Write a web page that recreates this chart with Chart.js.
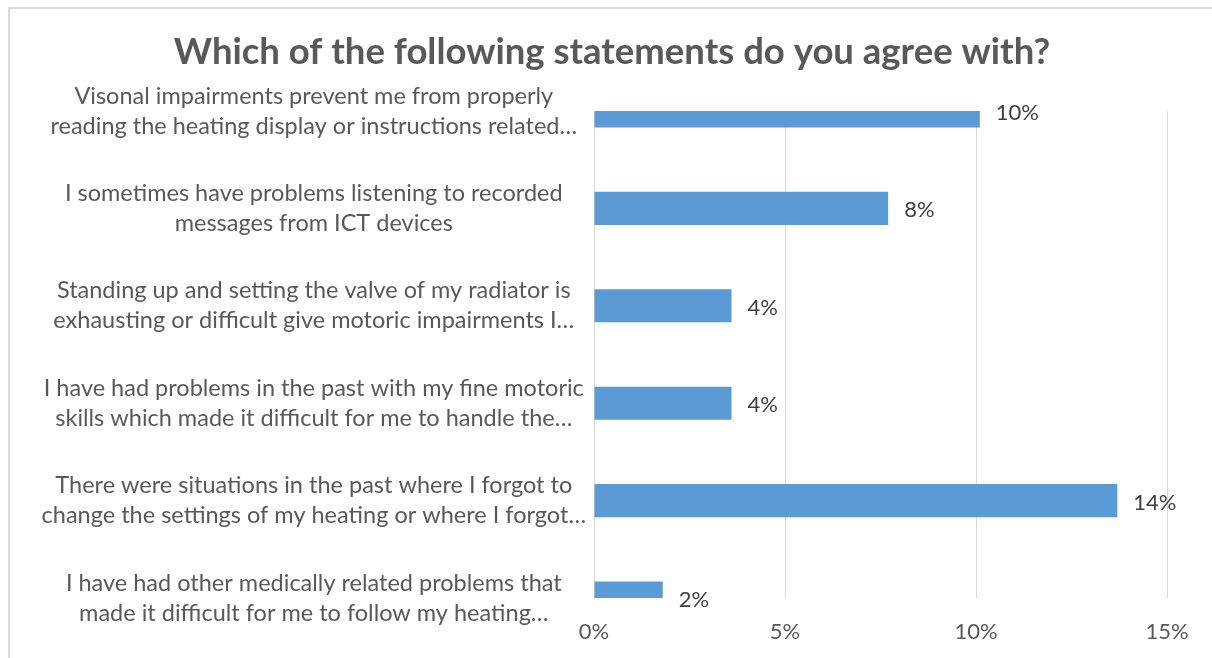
<!DOCTYPE html>
<html>
<head>
<meta charset="utf-8">
<script src="https://cdn.jsdelivr.net/npm/chart.js@4/dist/chart.umd.min.js"></script>
<style>
  html, body { margin: 0; padding: 0; background: #fff; overflow: hidden; }
  #wrap { position: relative; width: 1212px; height: 658px; }
  #frame { position: absolute; left: 8px; top: 7px; width: 1300px; height: 700px;
           border-top: 2px solid #d9d9d9; border-left: 2px solid #d9d9d9; }
  canvas { position: absolute; left: 0; top: 0; }
</style>
</head>
<body>
<div id="wrap">
  <div id="frame"></div>
  <canvas id="agreeChart" width="1212" height="658"></canvas>
</div>
<script>
const title = 'Which of the following statements do you agree with?';
const statements = [
  ['Visonal impairments prevent me from properly', 'reading the heating display or instructions related…'],
  ['I sometimes have problems listening to recorded', 'messages from ICT devices'],
  ['Standing up and setting the valve of my radiator is', 'exhausting or difficult give motoric impairments I…'],
  ['I have had problems in the past with my fine motoric', 'skills which made it difficult for me to handle the…'],
  ['There were situations in the past where I forgot to', 'change the settings of my heating or where I forgot…'],
  ['I have had other medically related problems that', 'made it difficult for me to follow my heating…']
];
const shares = [10.1, 7.7, 3.6, 3.6, 13.7, 1.8]; // percent of respondents
const xTicks = [0, 5, 10, 15];

const FONT = 'Lato, "Open Sans", sans-serif';
const pct = v => Math.round(v) + '%';

// title centred over the whole frame, not just the padded layout box
const frameTitle = {
  id: 'frameTitle',
  afterDraw(chart) {
    const ctx = chart.ctx;
    ctx.save();
    ctx.font = 'bold 36.5px ' + FONT;
    ctx.fillStyle = '#595959';
    ctx.textAlign = 'center';
    ctx.textBaseline = 'middle';
    ctx.fillText(title, 612, 52);
    ctx.restore();
  }
};

// value labels to the right of each bar
const barLabels = {
  id: 'barLabels',
  afterDatasetsDraw(chart) {
    const ctx = chart.ctx;
    const meta = chart.getDatasetMeta(0);
    ctx.save();
    ctx.font = '22px ' + FONT;
    ctx.fillStyle = '#404040';
    ctx.textAlign = 'left';
    ctx.textBaseline = 'middle';
    meta.data.forEach((bar, i) => {
      ctx.fillText(pct(shares[i]), bar.x + 16, bar.y + 2);
    });
    ctx.restore();
  }
};

new Chart(document.getElementById('agreeChart'), {
  type: 'bar',
  data: {
    labels: statements,
    datasets: [{
      data: shares,
      backgroundColor: '#5b9bd5',
      borderWidth: 0,
      categoryPercentage: 1,
      barPercentage: 0.34,
      clip: 0
    }]
  },
  options: {
    indexAxis: 'y',
    responsive: false,
    animation: false,
    layout: { padding: { left: 0, right: 45, top: 111, bottom: 0 } },
    plugins: {
      legend: { display: false },
      tooltip: { enabled: false },
      title: { display: false }
    },
    scales: {
      x: {
        min: 0,
        max: 15,
        afterFit: s => { s.height = 60; },
        afterBuildTicks: s => { s.ticks = xTicks.map(v => ({ value: v })); },
        grid: { color: '#d9d9d9', drawTicks: false },
        border: { display: false },
        ticks: {
          padding: 21,
          color: '#595959',
          font: { family: FONT, size: 22 },
          callback: v => v + '%'
        }
      },
      y: {
        offset: false,
        afterFit: s => { s.width = 594; },
        grid: { display: false },
        border: { color: '#d9d9d9' },
        ticks: {
          crossAlign: 'center',
          padding: 0,
          color: '#595959',
          font: { family: FONT, size: 23.5, lineHeight: 1.28 }
        }
      }
    }
  },
  plugins: [barLabels, frameTitle]
});
</script>
</body>
</html>
